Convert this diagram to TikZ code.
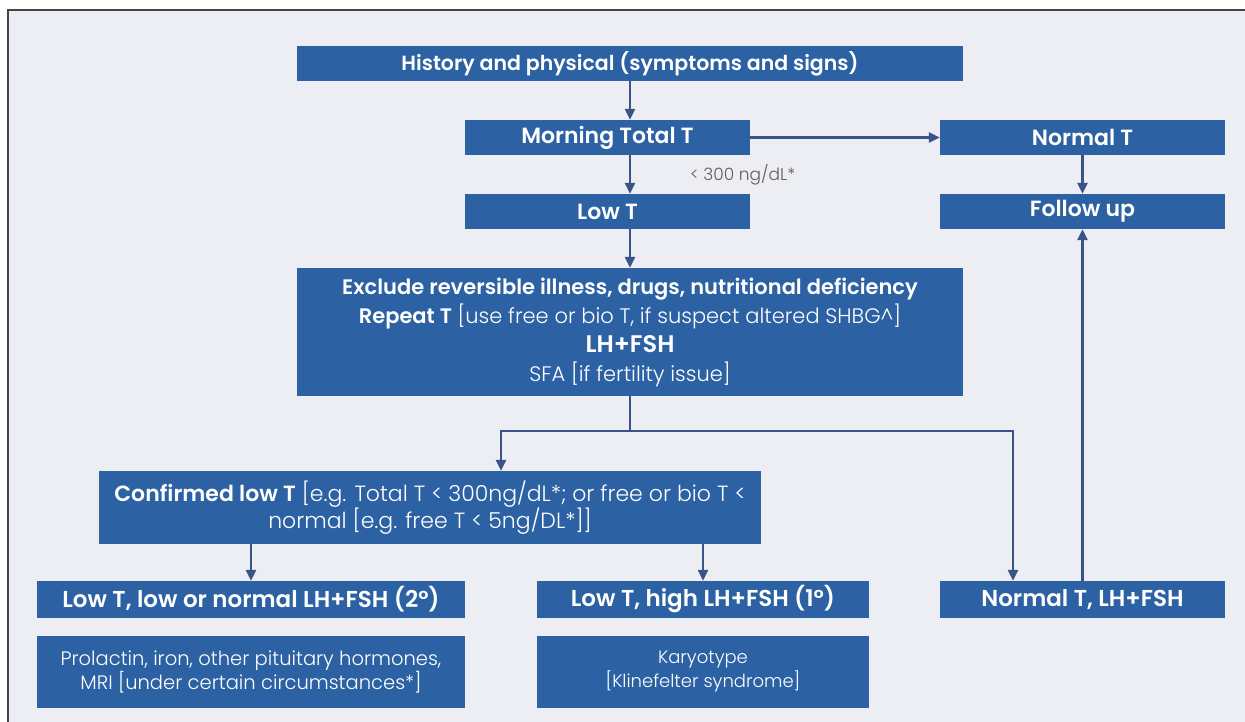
\documentclass[tikz,border=0pt]{standalone}
\usepackage{fontspec}
\setmainfont{Poppins}[UprightFont=* Light, BoldFont=* SemiBold]
\usetikzlibrary{arrows.meta}
\definecolor{boxblue}{HTML}{2C62A3}
\definecolor{bgc}{HTML}{EDEEF3}
\definecolor{linec}{HTML}{3A5487}
\definecolor{framec}{HTML}{444444}
\definecolor{lblc}{HTML}{5E5E5E}
\begin{document}
\begin{tikzpicture}[x=1pt,y=-1pt,
  box/.style={draw=none, fill=boxblue, text=white, inner sep=0pt, align=center},
  ttl/.style={box, font=\fontsize{22}{24}\selectfont\bfseries},
  ttlb/.style={box, font=\fontsize{23}{25}\selectfont\bfseries},
  txt/.style={box, font=\fontsize{21}{29}\selectfont},
  sm/.style={box, font=\fontsize{19.5}{24}\selectfont},
  arr/.style={draw=linec, line width=2.8pt, -{Triangle[length=11pt,width=10pt]}},
]
\useasboundingbox (0,0) rectangle (1245,722);
\fill[white] (0,0) rectangle (1245,722);
\fill[bgc] (8,10) rectangle (1245,722);
\draw[framec, line width=2pt] (8,722) -- (8,10) -- (1245,10);

\node[ttl, font=\fontsize{20.5}{24}\selectfont\bfseries, minimum width=666pt, minimum height=35pt] (hist) at (630,63.5) {History and physical (symptoms and signs)};
\node[ttl, minimum width=285pt, minimum height=35pt] (morn) at (607.5,137.5) {Morning Total T};
\node[ttl, minimum width=285pt, minimum height=35pt] (lowt) at (607.5,211.5) {Low T};
\node[ttl, minimum width=285pt, minimum height=35pt] (normt) at (1082.5,137.5) {Normal T};
\node[ttl, minimum width=285pt, minimum height=35pt] (follow) at (1082.5,211.5) {Follow up};
\node[txt, minimum width=666pt, minimum height=128pt] (excl) at (630,332) {{\bfseries Exclude reversible illness, drugs, nutritional deficiency}\\{\bfseries Repeat T} [use free or bio T, if suspect altered SHBG\textasciicircum]\\{\fontsize{24}{29}\selectfont\bfseries LH+FSH}\\{}SFA [if fertility issue]};
\node[txt, font=\fontsize{22}{24}\selectfont, minimum width=662pt, minimum height=73pt] (conf) at (430,507.5) {{\bfseries Confirmed low T} [e.g. Total T < 300ng/dL*; or free or bio T <\\{}normal [e.g. free T < 5ng/DL*]]};
\node[ttlb, minimum width=428pt, minimum height=37pt] (lowlow) at (251,599.5) {Low T, low or normal LH+FSH (2°)};
\node[sm, minimum width=428pt, minimum height=72pt] (prol) at (251,672) {Prolactin, iron, other pituitary hormones,\\{}MRI [under certain circumstances*]};
\node[ttlb, minimum width=332pt, minimum height=37pt] (lowhigh) at (703,599.5) {Low T, high LH+FSH (1°)};
\node[sm, font=\fontsize{18}{24}\selectfont, minimum width=332pt, minimum height=72pt] (kary) at (703,672) {Karyotype\\{}[Klinefelter syndrome]};
\node[ttlb, minimum width=285pt, minimum height=37pt] (normlh) at (1082.5,599.5) {Normal T, LH+FSH};

\node[font=\fontsize{17}{19}\selectfont, text=lblc, anchor=west, inner sep=0pt] (lbl) at (690,175) {< 300 ng/dL*};

\coordinate (jl) at (501,431);
\coordinate (jr) at (1013,431);

\draw[arr] (hist.south) -- (hist.south |- morn.north);
\draw[arr] (hist.south |- morn.south) -- (hist.south |- lowt.north);
\draw[arr] (hist.south |- lowt.south) -- (excl.north);
\draw[arr] (morn.east) -- (normt.west);
\draw[arr] (normt.south) -- (follow.north);
\draw[arr] (normlh.north) -- (follow.south);
\draw[arr] (excl.south) |- (jl) -- (jl |- conf.north);
\draw[arr] (excl.south) |- (jr) -- (jr |- normlh.north);
\draw[arr] (conf.south -| lowlow.north) -- (lowlow.north);
\draw[arr] (conf.south -| lowhigh.north) -- (lowhigh.north);
\end{tikzpicture}
\end{document}
